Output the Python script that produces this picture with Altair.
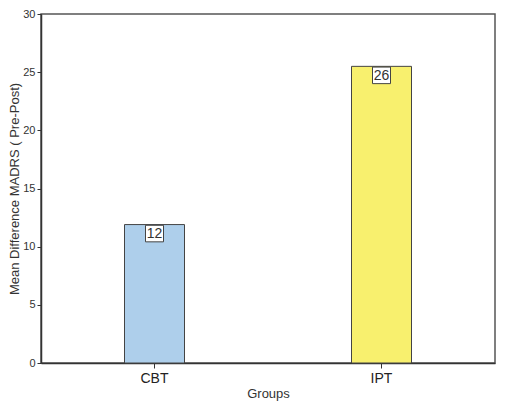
import altair as alt
import pandas as pd

groups = ["CBT", "IPT"]
means = [11.9, 25.5]
labels = ["12", "26"]
colors = ["#aecfeb", "#f8f06e"]

df = pd.DataFrame({"group": groups, "mean": means, "label": labels, "color": colors})

FONT = "Liberation Sans"
H = 349

x = alt.X("group:N", sort=groups, title="Groups",
          scale=alt.Scale(paddingInner=0, paddingOuter=0),
          axis=alt.Axis(labelAngle=0, labelFontSize=14, labelColor="#222", labelFont=FONT,
                        titleFontSize=13, titleFont=FONT, titleFontWeight="normal", titleColor="#333",
                        domainColor="#333", domainWidth=1.5, tickColor="#333", tickSize=5,
                        labelPadding=3, titlePadding=2))
y = alt.Y("mean:Q", title="Mean Difference MADRS ( Pre-Post)",
          scale=alt.Scale(domain=[0, 30], nice=False),
          axis=alt.Axis(values=[0, 5, 10, 15, 20, 25, 30], grid=False, labelFontSize=11,
                        labelColor="#333", labelFont=FONT, titleFontSize=13, titleFont=FONT,
                        titleFontWeight="normal", titleColor="#333", domainColor="#333",
                        domainWidth=1.5, tickColor="#333", tickSize=4, labelPadding=2,
                        titleX=-27, titleY=H / 2, titleBaseline="middle", titleAngle=270))

bars = alt.Chart(df).mark_bar(size=60, stroke="#444", strokeWidth=1).encode(
    x=x, y=y, color=alt.Color("color:N", scale=None)
)

boxes = alt.Chart(df).mark_point(
    shape="M-1,-0.92L1,-0.92L1,0.92L-1,0.92Z", size=324, filled=True, fill="white",
    stroke="#444", strokeWidth=1, opacity=1, yOffset=9
).encode(x=x, y=y)

texts = alt.Chart(df).mark_text(
    fontSize=14, font=FONT, color="#333", yOffset=9.5, baseline="middle", align="center"
).encode(x=x, y=y, text="label:N")

chart = (bars + boxes + texts).properties(
    width=454, height=H,
    background="white",
    autosize=alt.AutoSizeParams(type="none"),
    padding={"left": 33, "top": 6, "right": 2, "bottom": 40},
).configure_view(stroke="#555", strokeWidth=1.5)

chart.save("out.html", embed_options={"renderer": "svg", "actions": False})
